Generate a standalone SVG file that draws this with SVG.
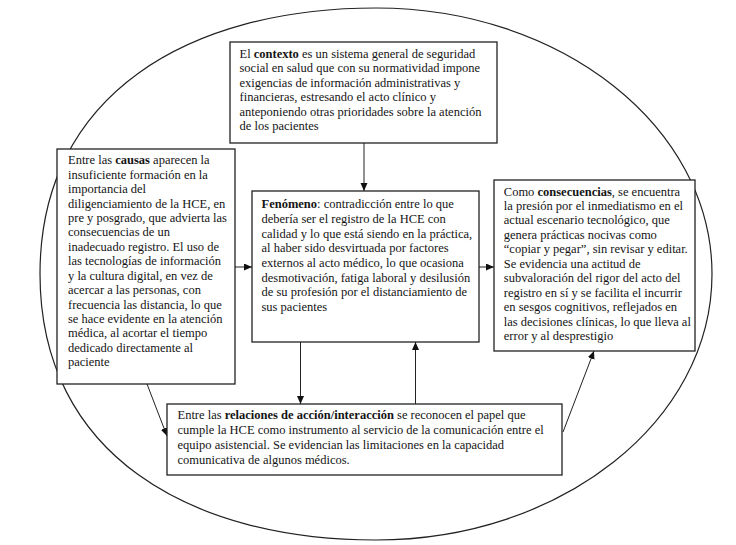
<svg xmlns="http://www.w3.org/2000/svg" width="736" height="545" viewBox="0 0 736 545">
<style>
.box{fill:#fff;stroke:#222;stroke-width:1.3}
.t{font-family:"Liberation Serif","Times New Roman",serif;font-size:12.5px;fill:#141414}
.b{font-weight:bold}
.c{stroke:#222;stroke-width:1;fill:none}
</style>
<defs>
<marker id="ah" markerUnits="userSpaceOnUse" markerWidth="9" markerHeight="8" refX="8" refY="3.5" orient="auto">
<path d="M0,0 L8,3.5 L0,7 z" fill="#111"/>
</marker>
</defs>
<rect width="736" height="545" fill="#fff"/>
<path d="M40,274 C40,93.1 190.4,8 376,8 C561.6,8 712,127.1 712,274 C712,420.9 561.6,540 376,540 C190.4,540 40,454.9 40,274 Z" fill="none" stroke="#222" stroke-width="1.2"/>
<g id="connectors">
<line class="c" x1="364" y1="143" x2="364" y2="191" marker-end="url(#ah)"/>
<line class="c" x1="235" y1="267" x2="252" y2="267" marker-end="url(#ah)"/>
<line class="c" x1="479" y1="267" x2="494" y2="267" marker-end="url(#ah)"/>
<line class="c" x1="300.5" y1="342" x2="300.5" y2="404" marker-end="url(#ah)"/>
<line class="c" x1="415.5" y1="404" x2="415.5" y2="342" marker-end="url(#ah)"/>
<line class="c" x1="147" y1="384" x2="167" y2="436" marker-end="url(#ah)"/>
<line class="c" x1="563" y1="432" x2="594" y2="351" marker-end="url(#ah)"/>
</g>
<g id="contexto">
<rect class="box" x="230" y="42" width="267" height="101"/>
<text class="t" y="58">
<tspan x="239.5">El <tspan class="b">contexto</tspan> es un sistema general de seguridad</tspan>
<tspan x="239.5" dy="14.45">social en salud que con su normatividad impone</tspan>
<tspan x="239.5" dy="14.45">exigencias de información administrativas y</tspan>
<tspan x="239.5" dy="14.45">financieras, estresando el acto clínico y</tspan>
<tspan x="239.5" dy="14.45">anteponiendo otras prioridades sobre la atención</tspan>
<tspan x="239.5" dy="14.45">de los pacientes</tspan>
</text>
</g>
<g id="causas">
<rect class="box" x="57" y="149" width="178" height="235"/>
<text class="t" y="164.3">
<tspan x="68">Entre las <tspan class="b">causas</tspan> aparecen la</tspan>
<tspan x="68" dy="14.43">insuficiente formación en la</tspan>
<tspan x="68" dy="14.43">importancia del</tspan>
<tspan x="68" dy="14.43">diligenciamiento de la HCE, en</tspan>
<tspan x="68" dy="14.43">pre y posgrado, que advierta las</tspan>
<tspan x="68" dy="14.43">consecuencias de un</tspan>
<tspan x="68" dy="14.43">inadecuado registro. El uso de</tspan>
<tspan x="68" dy="14.43">las tecnologías de información</tspan>
<tspan x="68" dy="14.43">y la cultura digital, en vez de</tspan>
<tspan x="68" dy="14.43">acercar a las personas, con</tspan>
<tspan x="68" dy="14.43">frecuencia las distancia, lo que</tspan>
<tspan x="68" dy="14.43">se hace evidente en la atención</tspan>
<tspan x="68" dy="14.43">médica, al acortar el tiempo</tspan>
<tspan x="68" dy="14.43">dedicado directamente al</tspan>
<tspan x="68" dy="14.43">paciente</tspan>
</text>
</g>
<g id="fenomeno">
<rect class="box" x="252" y="191" width="227" height="151"/>
<text class="t" y="208.4">
<tspan x="261.5"><tspan class="b">Fenómeno</tspan>: contradicción entre lo que</tspan>
<tspan x="261.5" dy="14.63">debería ser el registro de la HCE con</tspan>
<tspan x="261.5" dy="14.63">calidad y lo que está siendo en la práctica,</tspan>
<tspan x="261.5" dy="14.63">al haber sido desvirtuada por factores</tspan>
<tspan x="261.5" dy="14.63">externos al acto médico, lo que ocasiona</tspan>
<tspan x="261.5" dy="14.63">desmotivación, fatiga laboral y desilusión</tspan>
<tspan x="261.5" dy="14.63">de su profesión por el distanciamiento de</tspan>
<tspan x="261.5" dy="14.63">sus pacientes</tspan>
</text>
</g>
<g id="consecuencias">
<rect class="box" x="494" y="180" width="201" height="171"/>
<text class="t" y="195.5">
<tspan x="503.8">Como <tspan class="b">consecuencias</tspan>, se encuentra</tspan>
<tspan x="503.8" dy="14.48">la presión por el inmediatismo en el</tspan>
<tspan x="503.8" dy="14.48">actual escenario tecnológico, que</tspan>
<tspan x="503.8" dy="14.48">genera prácticas nocivas como</tspan>
<tspan x="503.8" dy="14.48">“copiar y pegar”, sin revisar y editar.</tspan>
<tspan x="503.8" dy="14.48">Se evidencia una actitud de</tspan>
<tspan x="503.8" dy="14.48">subvaloración del rigor del acto del</tspan>
<tspan x="503.8" dy="14.48">registro en sí y se facilita el incurrir</tspan>
<tspan x="503.8" dy="14.48">en sesgos cognitivos, reflejados en</tspan>
<tspan x="503.8" dy="14.48">las decisiones clínicas, lo que lleva al</tspan>
<tspan x="503.8" dy="14.48">error y al desprestigio</tspan>
</text>
</g>
<g id="relaciones">
<rect class="box" x="167" y="404" width="395" height="71"/>
<text class="t" y="419.1">
<tspan x="177.5">Entre las <tspan class="b">relaciones de acción/interacción</tspan> se reconocen el papel que</tspan>
<tspan x="177.5" dy="15.07">cumple la HCE como instrumento al servicio de la comunicación entre el</tspan>
<tspan x="177.5" dy="15.07">equipo asistencial. Se evidencian las limitaciones en la capacidad</tspan>
<tspan x="177.5" dy="15.07">comunicativa de algunos médicos.</tspan>
</text>
</g>
</svg>
